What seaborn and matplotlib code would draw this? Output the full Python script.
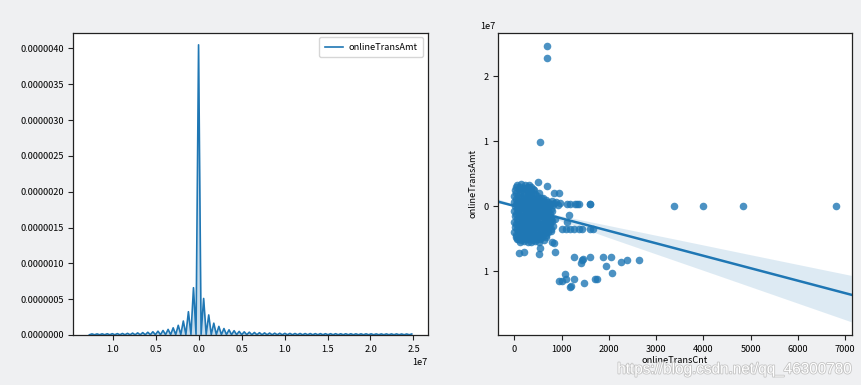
import numpy as np
import pandas as pd
import matplotlib
matplotlib.use("Agg")
import matplotlib.pyplot as plt
import matplotlib.ticker as mticker
import matplotlib.patheffects as pe
import seaborn as sns

# ---------------- data: KDE of onlineTransAmt -------------
kde_x_start = -1.27e7          # first grid point of the KDE support
kde_x_end = 2.48e7             # last grid point of the KDE support
kde_density_e6 = [             # density in units of 1e-6, 128 grid points
    0.003, 0.015, 0.003, 0.015, 0.003, 0.016, 0.003, 0.017, 0.003, 0.018,
    0.003, 0.019, 0.003, 0.021, 0.003, 0.023, 0.003, 0.026, 0.003, 0.029,
    0.003, 0.033, 0.003, 0.038, 0.004, 0.045, 0.004, 0.053, 0.004, 0.063,
    0.004, 0.078, 0.005, 0.100, 0.005, 0.135, 0.006, 0.195, 0.006, 0.325,
    0.008, 0.660, 0.010, 4.050, 0.010, 0.510, 0.008, 0.280, 0.006, 0.165,
    0.006, 0.120, 0.005, 0.090, 0.005, 0.072, 0.004, 0.060, 0.004, 0.050,
    0.004, 0.044, 0.004, 0.039, 0.003, 0.035, 0.003, 0.032, 0.003, 0.029,
    0.003, 0.027, 0.003, 0.025, 0.003, 0.024, 0.003, 0.023, 0.003, 0.022,
    0.003, 0.021, 0.003, 0.021, 0.003, 0.020, 0.003, 0.020, 0.003, 0.019,
    0.003, 0.019, 0.003, 0.018, 0.003, 0.018, 0.003, 0.018, 0.003, 0.017,
    0.003, 0.017, 0.003, 0.017, 0.003, 0.016, 0.003, 0.016, 0.003, 0.016,
    0.003, 0.016, 0.003, 0.015, 0.003, 0.015, 0.003, 0.015, 0.003, 0.015,
    0.003, 0.015, 0.003, 0.014, 0.003, 0.014, 0.003, 0.014,
]

# ---------------- data: onlineTransCnt vs onlineTransAmt -------------------------
# amounts in units of 1e7
outlier_cnt = [700, 700, 540, 3380, 3990, 4850, 6800]
outlier_amt = [2.47, 2.28, 0.98, 0.0, 0.0, 0.0, 0.0]

lower_cnt = [1268, 1430, 1409, 1451, 1607, 1867, 1945, 2037, 2058, 2255, 2382, 2629,
             1071, 937, 1008, 1092, 1268, 1184, 1205, 1480, 1698, 1748]
lower_amt = [-0.78, -0.83, -0.87, -0.81, -0.78, -0.79, -0.92, -0.79, -1.03, -0.86, -0.83, -0.83,
             -1.05, -1.15, -1.16, -1.13, -1.12, -1.25, -1.23, -1.19, -1.13, -1.12]

mid_cnt = [1113, 1184, 1276, 1325, 1374, 1593, 1607,
           832, 937, 493, 690, 388,
           1008, 1099, 1184, 1254, 1360, 1430, 1593, 1656,
           1148, 1113, 782, 867,
           56, 99, 197, 514, 550, 846, 796, 853]
mid_amt = [0.03, 0.03, 0.03, 0.03, 0.03, 0.03, 0.03,
           0.20, 0.20, 0.37, 0.31, 0.26,
           -0.36, -0.36, -0.36, -0.36, -0.36, -0.36, -0.36, -0.36,
           -0.13, -0.24, -0.20, -0.20,
           -0.50, -0.72, -0.70, -0.74, -0.65, -0.57, -0.55, -0.70]

# dense cluster near the origin
blob_cnt = [60, 150, 230, 300,
            40, 120, 200, 280, 360,
            10, 90, 170, 250, 330, 420,
            40, 120, 200, 280, 360, 440, 520,
            0, 80, 160, 240, 320, 400, 480, 560,
            40, 120, 200, 280, 360, 440, 520, 600, 680,
            0, 80, 160, 240, 320, 400, 480, 560, 640, 720, 800, 880, 960,
            40, 120, 200, 280, 360, 440, 520, 600, 680, 760, 840, 920,
            20, 100, 180, 260, 340, 420, 500, 580, 660, 740, 820,
            60, 140, 220, 300, 380, 460, 540, 620, 700, 780,
            0, 80, 160, 240, 320, 400, 480, 560, 640, 720, 800,
            40, 120, 200, 280, 360, 440, 520, 600, 680, 760,
            20, 100, 180, 260, 340, 420, 500, 580, 660, 740,
            60, 140, 220, 300, 380, 460, 540, 620, 700, 780,
            0, 80, 160, 240, 320, 400, 480, 560, 640, 720, 800,
            40, 120, 200, 280, 360, 440, 520, 600, 680, 760,
            20, 100, 180, 260, 340, 420, 500, 580, 660, 740, 820,
            60, 140, 220, 300, 380, 460, 540, 620, 700, 780,
            0, 80, 160, 240, 320, 400, 480, 560, 640, 720, 780,
            40, 120, 200, 280, 360, 440, 520, 600, 680,
            30, 110, 190, 270, 350, 430, 510, 590, 660,
            70, 150, 230, 310, 390, 470, 550, 630,
            120, 200, 280, 360, 440, 520]
blob_amt = [0.33, 0.34, 0.32, 0.33,
            0.29, 0.30, 0.28, 0.29, 0.29,
            0.25, 0.26, 0.24, 0.26, 0.25, 0.24,
            0.20, 0.21, 0.19, 0.20, 0.21, 0.19, 0.20,
            0.15, 0.16, 0.14, 0.15, 0.16, 0.14, 0.15, 0.13,
            0.11, 0.12, 0.10, 0.11, 0.12, 0.10, 0.11, 0.12, 0.10,
            0.07, 0.08, 0.06, 0.07, 0.08, 0.06, 0.07, 0.08, 0.06, 0.07, 0.08, 0.06, 0.05,
            0.03, 0.04, 0.02, 0.03, 0.04, 0.02, 0.03, 0.04, 0.02, 0.03, 0.04, 0.02,
            0.00, 0.01, -0.01, 0.00, 0.01, -0.01, 0.00, 0.01, -0.01, 0.00, 0.01,
            -0.04, -0.03, -0.05, -0.04, -0.03, -0.05, -0.04, -0.03, -0.05, -0.04,
            -0.08, -0.07, -0.09, -0.08, -0.07, -0.09, -0.08, -0.07, -0.09, -0.08, -0.07,
            -0.12, -0.11, -0.13, -0.12, -0.11, -0.13, -0.12, -0.11, -0.13, -0.12,
            -0.16, -0.15, -0.17, -0.16, -0.15, -0.17, -0.16, -0.15, -0.17, -0.16,
            -0.20, -0.19, -0.21, -0.20, -0.19, -0.21, -0.20, -0.19, -0.21, -0.20,
            -0.24, -0.23, -0.25, -0.24, -0.23, -0.25, -0.24, -0.23, -0.25, -0.24, -0.23,
            -0.28, -0.27, -0.29, -0.28, -0.27, -0.29, -0.28, -0.27, -0.29, -0.28,
            -0.32, -0.31, -0.33, -0.32, -0.31, -0.33, -0.32, -0.31, -0.33, -0.32, -0.31,
            -0.36, -0.35, -0.37, -0.36, -0.35, -0.37, -0.36, -0.35, -0.37, -0.36,
            -0.40, -0.39, -0.41, -0.40, -0.39, -0.41, -0.40, -0.39, -0.41, -0.40, -0.39,
            -0.44, -0.43, -0.45, -0.44, -0.43, -0.45, -0.44, -0.43, -0.44,
            -0.48, -0.47, -0.49, -0.48, -0.47, -0.49, -0.48, -0.47, -0.48,
            -0.51, -0.52, -0.50, -0.51, -0.52, -0.50, -0.51, -0.52,
            -0.55, -0.54, -0.56, -0.55, -0.54, -0.56]

# heavily stacked observations hidden inside the cluster (they shape the fit)
core_cnt = [125]
core_amt = [0.03]
core_obs = [2472]
obs_per_mark = 6        # typical number of overlapping records per visible mark

# ---------------- assemble tables ---------------------------------------------------
kde_x = np.linspace(kde_x_start, kde_x_end, len(kde_density_e6))
kde_df = pd.DataFrame({"onlineTransAmt": kde_x,
                       "density": np.array(kde_density_e6) * 1e-6})

vis_cnt = outlier_cnt + lower_cnt + mid_cnt + blob_cnt
vis_amt = outlier_amt + lower_amt + mid_amt + blob_amt
vis_df = pd.DataFrame({"onlineTransCnt": vis_cnt,
                       "onlineTransAmt": np.array(vis_amt) * 1e7})

cnt = vis_cnt + core_cnt
amt = vis_amt + core_amt
nobs = [obs_per_mark] * len(vis_cnt) + core_obs
reg_df = pd.DataFrame({"onlineTransCnt": np.repeat(cnt, nobs),
                       "onlineTransAmt": np.repeat(np.array(amt) * 1e7, nobs)})

# ---------------- style --------------------------------------------------------------
plt.rcParams["font.family"] = ["Noto Sans CJK SC", "DejaVu Sans"]
BG = "#eff0f2"
BLUE = "#1f77b4"
FS = 6.6


class NoMinusFormatter(mticker.ScalarFormatter):
    """The original rendering font had no minus glyph."""
    def __call__(self, x, pos=None):
        s = super().__call__(x, pos)
        return s.replace("\u2212", "").replace("-", "")


fig = plt.figure(figsize=(8.61, 3.85), dpi=100, facecolor=BG)
ax1 = fig.add_axes([0.0851, 0.1299, 0.4116, 0.7852])
ax2 = fig.add_axes([0.5787, 0.1299, 0.4105, 0.7852])

# ---------------- left: KDE ---------------------------------------------------------
sns.lineplot(data=kde_df, x="onlineTransAmt", y="density", ax=ax1, color=BLUE,
             linewidth=1.2, label="onlineTransAmt")
ax1.fill_between(kde_df["onlineTransAmt"], kde_df["density"], color=BLUE, alpha=0.25,
                 linewidth=0)
ax1.set_ylim(0, 4.22e-6)
ax1.set_xlim(-1.458e7, 2.665e7)
ax1.xaxis.set_major_locator(mticker.MultipleLocator(0.5e7))
ax1.xaxis.set_major_formatter(NoMinusFormatter())
ax1.yaxis.set_major_locator(mticker.MultipleLocator(5e-7))
ax1.yaxis.set_major_formatter(mticker.FuncFormatter(lambda v, p: f"{abs(v):.7f}"))
ax1.set_xlabel("")
ax1.set_ylabel("")
leg = ax1.legend(loc="upper right", fontsize=FS, frameon=True, fancybox=True,
                 handlelength=2.0, handletextpad=0.6, borderpad=0.6)
leg.get_frame().set_edgecolor("#cccccc")

# ---------------- right: regression --------------------------------------------------
ax2.set_xlim(-340, 7140)
sns.scatterplot(data=vis_df, x="onlineTransCnt", y="onlineTransAmt", ax=ax2,
                color=BLUE, alpha=0.8, s=30, linewidth=0)
sns.regplot(data=reg_df, x="onlineTransCnt", y="onlineTransAmt", ax=ax2, color=BLUE,
            scatter=False, truncate=False, seed=0, line_kws={"linewidth": 1.8})
ax2.set_xlim(-340, 7140)
ax2.set_ylim(-1.985e7, 2.67e7)
ax2.xaxis.set_major_locator(mticker.MultipleLocator(1000))
ax2.yaxis.set_major_locator(mticker.MultipleLocator(1e7))
ax2.yaxis.set_major_formatter(NoMinusFormatter())
ax2.set_xlabel("onlineTransCnt", fontsize=FS, labelpad=2)
ax2.set_ylabel("onlineTransAmt", fontsize=FS, labelpad=4)

for ax in (ax1, ax2):
    ax.set_facecolor("white")
    ax.grid(False)
    for sp in ax.spines.values():
        sp.set_color("#222222")
        sp.set_linewidth(0.9)
    ax.tick_params(labelsize=FS, length=3.5, width=0.8, color="#222222",
                   direction="out")
    ax.xaxis.get_offset_text().set_fontsize(FS)
    ax.yaxis.get_offset_text().set_fontsize(FS)
ax2.yaxis.get_offset_text().set_x(-0.05)

fig.text(0.988, 0.022, "https://blog.csdn.net/qq_46300780", ha="right", va="bottom",
         fontsize=11, color="white", family=["Liberation Sans", "DejaVu Sans"],
         path_effects=[pe.withStroke(linewidth=1.2, foreground="#c4c4c4")])

fig.savefig("out.png", dpi=100, facecolor=BG)
